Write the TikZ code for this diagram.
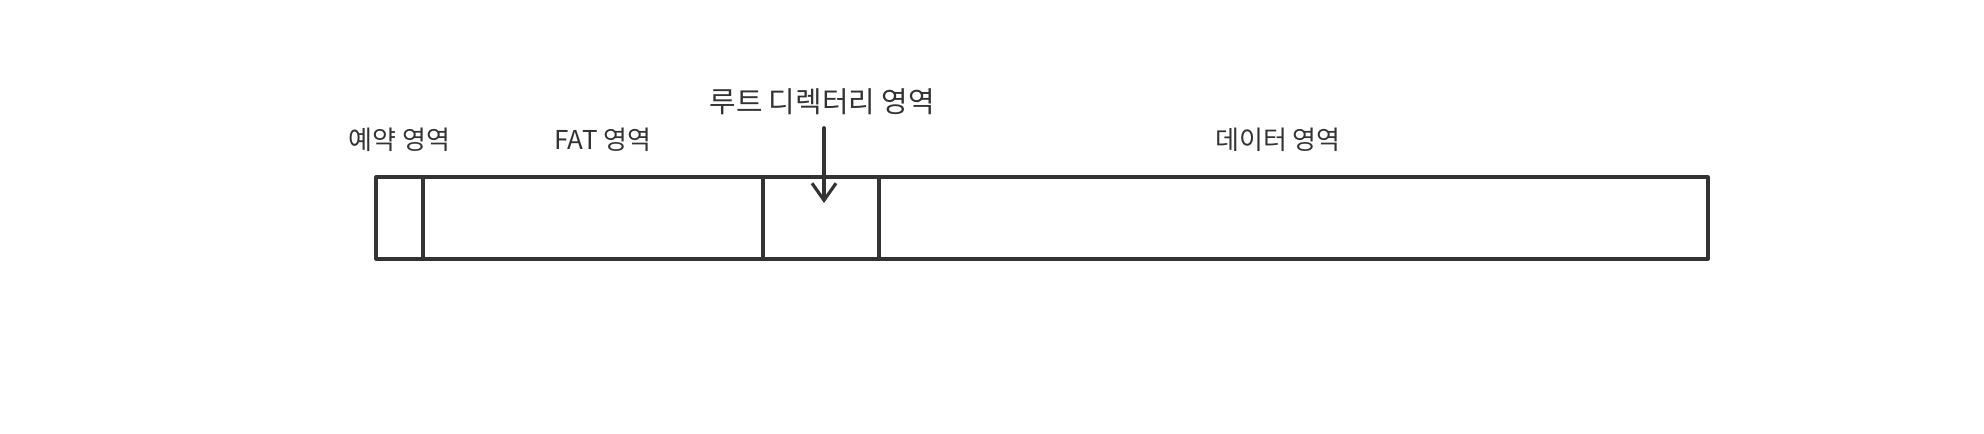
\documentclass[tikz,border=0pt]{standalone}
\usepackage{fontspec}
\setmainfont{Noto Sans CJK KR}
\usetikzlibrary{arrows.meta}
\definecolor{ink}{HTML}{333333}
\tikzset{lbl/.style={inner sep=0pt, text=ink, font=\fontsize{7.4}{9}\selectfont}}
\begin{document}
\begin{tikzpicture}[line join=round, line cap=round, >={Straight Barb[length=1.7mm,width=2.4mm]}, draw=ink]
  \useasboundingbox (0,0) rectangle (19.84,4.34);
  % disk layout
  \draw[ink, line width=0.9pt] (3.76,1.75) rectangle (17.08,2.57);
  \foreach \x in {4.23,7.63,8.79} \draw[ink, line width=0.9pt] (\x,1.75)--(\x,2.57);
  \node[lbl] (rsv) at (3.995,2.94) {예약 영역};
  \node[lbl] (fat) at (6.03,2.94) {FAT 영역};
  \node[lbl, font=\fontsize{8.2}{10}\selectfont] (root) at (8.22,3.32) {루트 디렉터리 영역};
  \node[lbl] (data) at (12.78,2.94) {데이터 영역};
  \coordinate (tip) at (8.24,2.31);
  \draw[->, ink, line width=0.9pt, shorten <=0.12cm] (root.south -| tip) -- (tip);
\end{tikzpicture}
\end{document}
